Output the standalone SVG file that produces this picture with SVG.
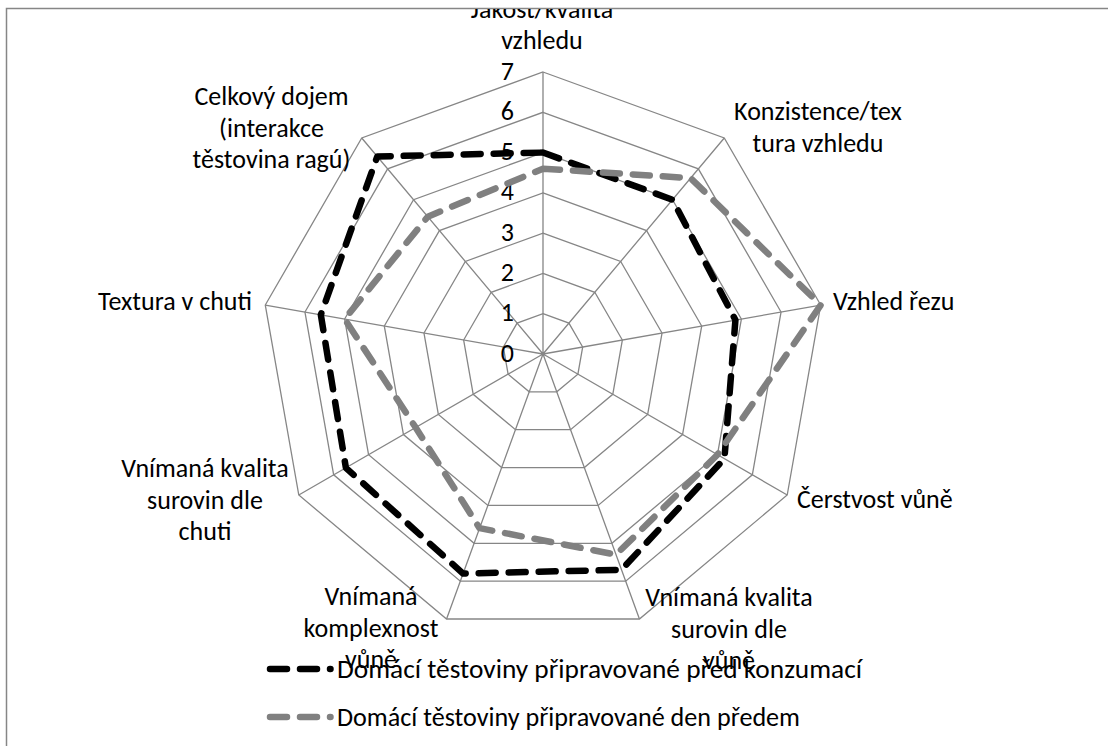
<svg xmlns="http://www.w3.org/2000/svg" width="1108" height="746" viewBox="0 0 1108 746">
<style>
.grid{fill:none;stroke:#868686;stroke-width:1.3}
.lbl{font-family:Carlito,Lato,"Liberation Sans",sans-serif;font-size:26px;fill:#000}
.mid{text-anchor:middle}
.end{text-anchor:end}
.s1{fill:none;stroke:#000;stroke-width:6.5;stroke-linecap:round;stroke-linejoin:round;stroke-dasharray:17 13}
.s2{fill:none;stroke:#808080;stroke-width:6.5;stroke-linecap:round;stroke-linejoin:round;stroke-dasharray:17 13}
</style>
<defs>
<clipPath id="clipTop"><rect x="0" y="9" width="1108" height="737"/></clipPath>
</defs>
<rect width="1108" height="746" fill="#fff"/>
<path id="frame" d="M6.5,746 V8.5 H1108" fill="none" stroke="#868686" stroke-width="1.5"/>

<g id="grid">
<polygon class="grid" points="543,313.71 568.90,323.14 582.67,347.01 577.89,374.14 556.78,391.86 529.22,391.86 508.11,374.14 503.33,347.01 517.10,323.14"/>
<polygon class="grid" points="543,273.43 594.79,292.28 622.35,340.01 612.78,394.29 570.56,429.71 515.44,429.71 473.22,394.29 463.65,340.01 491.21,292.28"/>
<polygon class="grid" points="543,233.14 620.69,261.42 662.02,333.02 647.66,414.43 584.33,467.57 501.67,467.57 438.34,414.43 423.98,333.02 465.31,261.42"/>
<polygon class="grid" points="543,192.86 646.58,230.56 701.69,326.02 682.55,434.57 598.11,505.43 487.89,505.43 403.45,434.57 384.31,326.02 439.42,230.56"/>
<polygon class="grid" points="543,152.57 672.48,199.70 741.37,319.03 717.44,454.71 611.89,543.28 474.11,543.28 368.56,454.71 344.63,319.03 413.52,199.70"/>
<polygon class="grid" points="543,112.29 698.37,168.84 781.04,312.04 752.33,474.86 625.67,581.14 460.33,581.14 333.67,474.86 304.96,312.04 387.63,168.84"/>
<polygon class="grid" points="543,72 724.27,137.99 820.71,305.04 787.21,495 639.44,618.99 446.56,618.99 298.79,495 265.29,305.04 361.73,137.99"/>
<path class="grid" d="M543,354 L543,72 M543,354 L724.27,137.99 M543,354 L820.71,305.04 M543,354 L787.21,495 M543,354 L639.44,618.99 M543,354 L446.56,618.99 M543,354 L298.79,495 M543,354 L265.29,305.04 M543,354 L361.73,137.99"/>
</g>

<g id="ticks" class="lbl end">
<text x="514" y="80">7</text>
<text x="514" y="120">6</text>
<text x="514" y="160">5</text>
<text x="514" y="200">4</text>
<text x="514" y="241">3</text>
<text x="514" y="281">2</text>
<text x="514" y="321">1</text>
<text x="514" y="362">0</text>
</g>

<g id="connectors">
<polygon id="series-pred-konzumaci" class="s1" points="543,152.57 672.48,199.70 735.42,320.08 724.42,458.74 621.53,569.78 463.09,573.57 345.88,467.81 320.83,314.84 377.27,156.50"/>
<polygon id="series-den-predem" class="s2" points="543,168.68 690.61,178.10 820.71,305.04 717.44,454.71 616.02,554.64 479.62,528.15 415.66,427.52 344.63,319.03 427.76,216.68"/>
</g>

<g id="label-jakost" class="lbl mid" clip-path="url(#clipTop)">
<text x="542" y="17.6">Jakost/kvalita</text>
<text x="542" y="49.3">vzhledu</text>
</g>
<g id="label-konzistence" class="lbl mid">
<text x="818" y="120">Konzistence/tex</text>
<text x="818" y="151.7">tura vzhledu</text>
</g>
<g id="label-vzhled-rezu" class="lbl">
<text x="833" y="310">Vzhled řezu</text>
</g>
<g id="label-cerstvost" class="lbl">
<text x="797" y="508">Čerstvost vůně</text>
</g>
<g id="label-kvalita-vune" class="lbl mid">
<text x="729" y="606">Vnímaná kvalita</text>
<text x="729" y="637.7">surovin dle</text>
<text x="729" y="669.4">vůně</text>
</g>
<g id="label-komplexnost" class="lbl mid">
<text x="371" y="605">Vnímaná</text>
<text x="371" y="636.7">komplexnost</text>
<text x="371" y="668.4">vůně</text>
</g>
<g id="label-kvalita-chuti" class="lbl mid">
<text x="205" y="477">Vnímaná kvalita</text>
<text x="205" y="508.7">surovin dle</text>
<text x="205" y="540.4">chuti</text>
</g>
<g id="label-textura" class="lbl end">
<text x="252" y="310">Textura v chuti</text>
</g>
<g id="label-celkovy" class="lbl mid">
<text x="271.5" y="105">Celkový dojem</text>
<text x="271.5" y="136.7">(interakce</text>
<text x="271.5" y="168.4">těstovina ragú)</text>
</g>

<g id="legend">
<path class="s1" d="M270,669 H330.5"/>
<text class="lbl" x="337" y="678" textLength="525" lengthAdjust="spacingAndGlyphs">Domácí těstoviny připravované před konzumací</text>
<path class="s2" d="M270,717 H330.5"/>
<text class="lbl" x="337" y="726" textLength="463" lengthAdjust="spacingAndGlyphs">Domácí těstoviny připravované den předem</text>
</g>
</svg>
